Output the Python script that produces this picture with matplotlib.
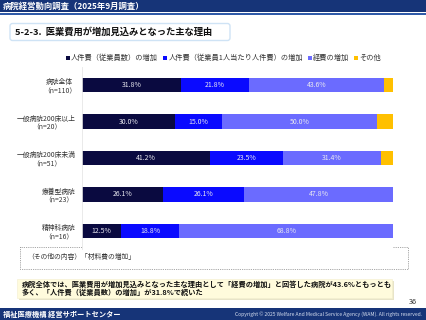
import matplotlib
matplotlib.use("Agg")
import matplotlib.pyplot as plt
from matplotlib.patches import Rectangle, FancyBboxPatch
import numpy as np

plt.rcParams['font.family'] = ['Noto Sans CJK JP', 'DejaVu Sans']

categories = ["病院全体\n（n=110）", "一般病院200床以上\n（n=20）", "一般病院200床未満\n（n=51）",
              "療養型病院\n（n=23）", "精神科病院\n（n=16）"]
series_names = ["人件費（従業員数）の増加", "人件費（従業員1人当たり人件費）の増加", "経費の増加", "その他"]
staff_count = [31.8, 30.0, 41.2, 26.1, 12.5]
staff_unit = [21.8, 15.0, 23.5, 26.1, 18.8]
expenses = [43.6, 50.0, 31.4, 47.8, 68.8]
other = [2.8, 5.0, 3.9, 0.0, 0.0]
colors = ["#0a0a40", "#0a0aff", "#6b6bff", "#ffc000"]

W, H = 427, 320
fig = plt.figure(figsize=(W / 100, H / 100), dpi=100)
fig.patch.set_facecolor("white")

# background overlay in pixel coordinates
bg = fig.add_axes([0, 0, 1, 1])
bg.set_xlim(0, W)
bg.set_ylim(H, 0)
bg.axis("off")

navy = "#163478"
bg.add_patch(Rectangle((0, 0), W, 12, color=navy, lw=0))
bg.add_patch(Rectangle((0, 13), W, 1.8, color="#2f5aa8", lw=0))
bg.text(3, 6.2, "病院経営動向調査（2025年9月調査）", color="white", fontsize=6.0,
        fontweight="bold", va="center", ha="left")

# title box
bg.add_patch(FancyBboxPatch((10, 23.5), 220, 17, boxstyle="round,pad=0,rounding_size=2.5",
                            fc="white", ec="#cfe3f5", lw=1.0))
bg.text(15, 32, "5-2-3.  医業費用が増加見込みとなった主な理由", fontsize=6.7,
        fontweight="bold", va="center", ha="left", color="#111111")

# legend
lx = 66
ly = 58
for name, c in zip(series_names, colors):
    bg.add_patch(Rectangle((lx, ly - 1.8), 3.6, 3.6, color=c, lw=0))
    t = bg.text(lx + 5.2, ly, name, color="#333333", fontsize=5.2, va="center", ha="left")
    fig.canvas.draw()
    bb = t.get_window_extent()
    lx = bb.x1 + 5.0

# chart axes
top, bottom = 66.75, 249.25
left, right = 82, 393
ax = fig.add_axes([left / W, 1 - bottom / H, (right - left) / W, (bottom - top) / H])
y = np.arange(len(categories))
left_acc = np.zeros(len(categories))
for vals, c in zip([staff_count, staff_unit, expenses, other], colors):
    vals = np.array(vals)
    ax.barh(y, vals, left=left_acc, height=0.385, color=c, lw=0)
    if c != colors[3]:
        for yi, (l, v) in enumerate(zip(left_acc, vals)):
            ax.text(l + v / 2, yi, f"{v:.1f}%", color="#e8e8f0", fontsize=5.0,
                    ha="center", va="center")
    left_acc += vals
ax.set_xlim(0, 100)
ax.set_ylim(len(categories) - 0.5, -0.5)
ax.set_yticks(y)
ax.set_yticklabels(categories, fontsize=4.9, color="#333333", linespacing=1.2)
ax.tick_params(axis="y", length=0, pad=4.3)
ax.set_xticks([])
for s in ["top", "right", "bottom"]:
    ax.spines[s].set_visible(False)
ax.spines["left"].set_color("#e6e6e6")
ax.spines["left"].set_linewidth(0.6)
for lab in ax.get_yticklabels():
    lab.set_horizontalalignment("right")
    lab.set_multialignment("center")

# dotted box
bg.add_patch(Rectangle((20, 246.5), 388, 22, fc="none", ec="#888888", lw=0.6, ls=(0, (1, 1.2))))
bg.text(27, 257.5, "（その他の内容）「材料費の増加」", fontsize=4.9, color="#333333",
        va="center", ha="left")

# summary box
bg.add_patch(Rectangle((19, 280.5), 375, 19.5, fc="#e8e4c8", lw=0))
bg.add_patch(Rectangle((17, 278.5), 375, 19.5, fc="#fffbdc", ec="#f3efcf", lw=0.4))
bg.text(22, 283.8, "病院全体では、医業費用が増加見込みとなった主な理由として「経費の増加」と回答した病院が43.6%ともっとも",
        fontsize=5.2, fontweight="bold", va="center", ha="left", color="#111111")
bg.text(22, 292.3, "多く、「人件費（従業員数）の増加」が31.8%で続いた",
        fontsize=5.2, fontweight="bold", va="center", ha="left", color="#111111")

bg.text(417, 302, "36", fontsize=5.3, va="center", ha="right", color="#333333")

# footer
bg.add_patch(Rectangle((0, 308), W, 12, color=navy, lw=0))
bg.text(3, 314, "福祉医療機構 経営サポートセンター", color="white", fontsize=5.2,
        fontweight="bold", va="center", ha="left")
bg.text(422, 314.5, "Copyright © 2025 Welfare And Medical Service Agency (WAM). All rights reserved.",
        color="#d8e0f0", fontsize=3.6, va="center", ha="right")

fig.savefig("out.png", dpi=100)
